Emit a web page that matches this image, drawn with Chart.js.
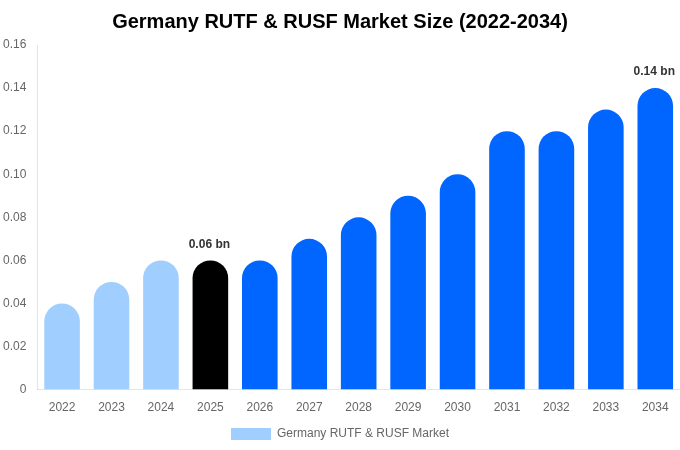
<!DOCTYPE html>
<html>
<head>
<meta charset="utf-8">
<script src="https://cdn.jsdelivr.net/npm/chart.js@4"></script>
<style>
  html, body { margin: 0; padding: 0; background: #fff; }
  #wrap { width: 680px; height: 450px; }
</style>
</head>
<body>
<div id="wrap"><canvas id="myBarChart"></canvas></div>
<script>
const years = ['2022', '2023', '2024', '2025', '2026', '2027', '2028', '2029', '2030', '2031', '2032', '2033', '2034'];
const marketSize = [0.04, 0.05, 0.06, 0.06, 0.06, 0.07, 0.08, 0.09, 0.10, 0.12, 0.12, 0.13, 0.14];
const barColors = ['#a0cfff', '#a0cfff', '#a0cfff', '#000000', '#0066ff', '#0066ff', '#0066ff',
  '#0066ff', '#0066ff', '#0066ff', '#0066ff', '#0066ff', '#0066ff'];
const labelled = [3, 12]; // bars that get a "bn" label

Chart.defaults.font.family = '"Liberation Sans", Arial, sans-serif';

// small plugin for the value labels above some bars
const valueLabels = {
  id: 'valueLabels',
  afterDatasetsDraw(chart) {
    const ctx = chart.ctx;
    const meta = chart.getDatasetMeta(0);
    ctx.save();
    ctx.font = 'bold 12px "Liberation Sans", Arial, sans-serif';
    ctx.fillStyle = '#333';
    ctx.textAlign = 'center';
    ctx.textBaseline = 'bottom';
    labelled.forEach(i => {
      const bar = meta.data[i];
      ctx.fillText(marketSize[i].toFixed(2) + ' bn', bar.x - 1, bar.y - 10);
    });
    ctx.restore();
  }
};

const ctx = document.getElementById('myBarChart').getContext('2d');
const myBarChart = new Chart(ctx, {
  type: 'bar',
  data: {
    labels: years,
    datasets: [{
      label: 'Germany RUTF & RUSF Market',
      data: marketSize,
      backgroundColor: barColors,
      borderRadius: { topLeft: 20, topRight: 20 },
      borderSkipped: 'bottom'
    }]
  },
  options: {
    responsive: true,
    maintainAspectRatio: false,
    animation: false,
    layout: { padding: { left: 0, right: 0, top: 0, bottom: 0 } },
    plugins: {
      title: {
        display: true,
        text: 'Germany RUTF & RUSF Market Size (2022-2034)',
        color: '#000',
        font: { size: 20, weight: 'bold' },
        padding: { top: 10, bottom: 11 }
      },
      legend: {
        position: 'bottom',
        labels: { color: '#666', boxWidth: 40, boxHeight: 12, font: { size: 12 } }
      },
      tooltip: { enabled: false }
    },
    scales: {
      x: {
        grid: { display: false },
        ticks: { color: '#666', font: { size: 12 } }
      },
      y: {
        min: 0,
        max: 0.16,
        grid: { display: false },
        ticks: {
          stepSize: 0.02,
          color: '#666',
          font: { size: 12 },
          callback: v => v === 0 ? '0' : v.toFixed(2)
        }
      }
    }
  },
  plugins: [valueLabels]
});
</script>
</body>
</html>
